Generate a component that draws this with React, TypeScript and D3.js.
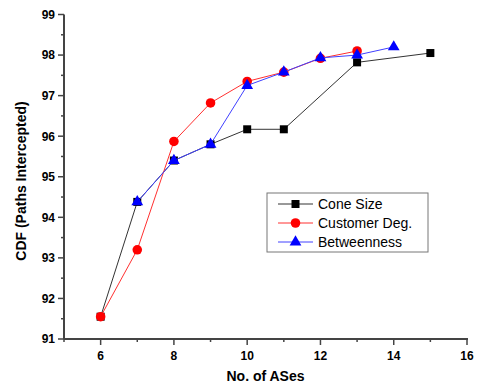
import React, { useEffect, useRef } from 'react';
import * as d3 from 'd3';

type Pt = { x: number; y: number };

const coneX = [6, 7, 8, 9, 10, 11, 13, 15];
const coneY = [91.55, 94.38, 95.4, 95.8, 96.17, 96.17, 97.82, 98.05];
const custX = [6, 7, 8, 9, 10, 11, 12, 13];
const custY = [91.55, 93.2, 95.87, 96.82, 97.35, 97.58, 97.92, 98.1];
const betwX = [7, 8, 9, 10, 11, 12, 13, 14];
const betwY = [94.38, 95.4, 95.8, 97.25, 97.58, 97.93, 98.0, 98.2];
const xTicks = [6, 8, 10, 12, 14, 16];
const yTicks = [91, 92, 93, 94, 95, 96, 97, 98, 99];

const zip = (xs: number[], ys: number[]): Pt[] => xs.map((x, i) => ({ x, y: ys[i] }));

const App: React.FC = () => {
  const svgRef = useRef<SVGSVGElement | null>(null);

  useEffect(() => {
    if (!svgRef.current) return;
    const width = 477;
    const height = 392;
    const left = 64, right = 467, top = 14.5, bottom = 339;

    const svg = d3.select(svgRef.current).attr('width', width).attr('height', height);
    svg.selectAll('*').remove();

    const x = d3.scaleLinear().domain([5, 16]).range([left, right]);
    const y = d3.scaleLinear().domain([91, 99]).range([bottom, top]);
    const font = 'Arial, "Liberation Sans", sans-serif';

    // axes
    const axisColor = '#444';
    svg.append('line').attr('x1', left).attr('x2', left).attr('y1', top).attr('y2', bottom)
      .attr('stroke', axisColor).attr('stroke-width', 2);
    svg.append('line').attr('x1', left).attr('x2', right + 1).attr('y1', bottom).attr('y2', bottom)
      .attr('stroke', axisColor).attr('stroke-width', 2);

    // x ticks (major + minor)
    d3.range(5, 17).forEach(v => {
      const major = v % 2 === 0;
      svg.append('line').attr('x1', x(v)).attr('x2', x(v))
        .attr('y1', bottom).attr('y2', bottom + (major ? 6 : 3))
        .attr('stroke', axisColor).attr('stroke-width', 1.5);
    });
    svg.selectAll('text.xt').data(xTicks).enter().append('text')
      .attr('class', 'xt')
      .attr('x', d => x(d)).attr('y', bottom + 21)
      .attr('text-anchor', 'middle')
      .attr('font-family', font).attr('font-weight', 'bold').attr('font-size', 12)
      .text(d => d);

    // y ticks (major + minor)
    d3.range(91, 99.01, 0.5).forEach(v => {
      const major = Math.abs(v - Math.round(v)) < 1e-6;
      svg.append('line').attr('x1', left).attr('x2', left - (major ? 6 : 3))
        .attr('y1', y(v)).attr('y2', y(v))
        .attr('stroke', axisColor).attr('stroke-width', 1.5);
    });
    svg.selectAll('text.yt').data(yTicks).enter().append('text')
      .attr('class', 'yt')
      .attr('x', left - 9).attr('y', d => y(d)).attr('dy', '0.36em')
      .attr('text-anchor', 'end')
      .attr('font-family', font).attr('font-weight', 'bold').attr('font-size', 12)
      .text(d => d);

    // axis titles
    svg.append('text')
      .attr('x', (left + right) / 2).attr('y', 381)
      .attr('text-anchor', 'middle')
      .attr('font-family', font).attr('font-weight', 'bold').attr('font-size', 14)
      .text('No. of ASes');
    svg.append('text')
      .attr('transform', `translate(26, 181) rotate(-90)`)
      .attr('text-anchor', 'middle')
      .attr('font-family', font).attr('font-weight', 'bold').attr('font-size', 14)
      .text('CDF (Paths Intercepted)');

    const line = d3.line<Pt>().x(d => x(d.x)).y(d => y(d.y));

    const series = [
      { name: 'Cone Size', data: zip(coneX, coneY), line: '#333', fill: '#000', shape: d3.symbolSquare, size: 64 },
      { name: 'Customer Deg.', data: zip(custX, custY), line: '#ff3030', fill: '#ff0000', shape: d3.symbolCircle, size: 72 },
      { name: 'Betweenness', data: zip(betwX, betwY), line: '#4040ff', fill: '#0000ff', shape: d3.symbolTriangle, size: 60 },
    ];

    series.forEach(s => {
      svg.append('path').datum(s.data).attr('d', line)
        .attr('fill', 'none').attr('stroke', s.line).attr('stroke-width', 1);
      svg.selectAll(null).data(s.data).enter().append('path')
        .attr('d', d3.symbol().type(s.shape).size(s.size)())
        .attr('transform', d => `translate(${x(d.x)},${y(d.y)})`)
        .attr('fill', s.fill);
    });

    // legend
    const lg = svg.append('g').attr('transform', 'translate(267,193)');
    lg.append('rect').attr('width', 161).attr('height', 59)
      .attr('fill', '#fff').attr('stroke', '#777').attr('stroke-width', 1);
    series.forEach((s, i) => {
      const cy = 11 + i * 19;
      lg.append('line').attr('x1', 11).attr('x2', 46).attr('y1', cy).attr('y2', cy)
        .attr('stroke', s.line).attr('stroke-width', 1);
      lg.append('path').attr('d', d3.symbol().type(s.shape).size(s.size)())
        .attr('transform', `translate(28.5,${cy})`).attr('fill', s.fill);
      lg.append('text').attr('x', 51).attr('y', cy).attr('dy', '0.36em')
        .attr('font-family', font).attr('font-size', 14)
        .text(s.name);
    });
  }, []);

  return (
    <svg ref={svgRef} style={{ position: 'absolute', left: 0, top: 0, background: '#fff' }} />
  );
};

export default App;
